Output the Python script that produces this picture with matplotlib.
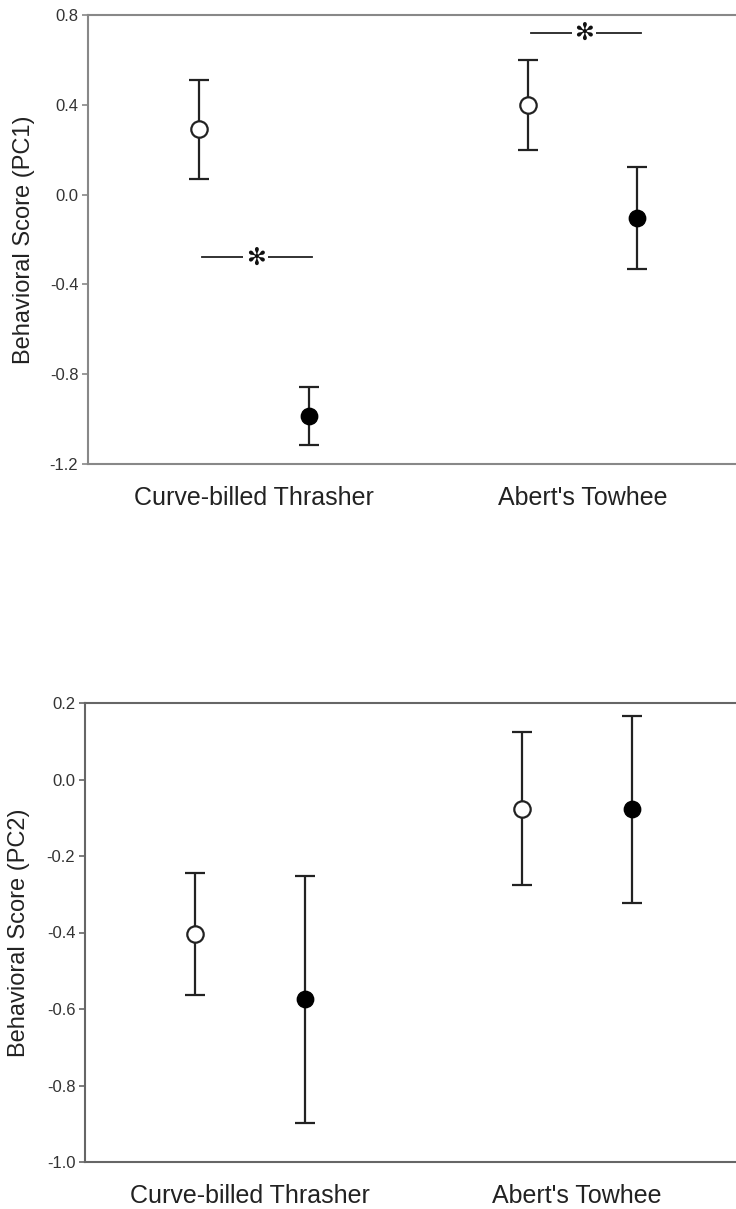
import matplotlib
matplotlib.use("Agg")
import matplotlib.pyplot as plt
import numpy as np

plt.rcParams['font.family'] = ['Liberation Sans', 'DejaVu Sans']

# ---- data ----
species = ["Curve-billed Thrasher", "Abert's Towhee"]
group_pos = [1, 2]
offset = 0.167

pc1_open = [0.29, 0.40]
pc1_open_err = [0.22, 0.20]
pc1_filled = [-0.985, -0.103]
pc1_filled_err = [0.13, 0.227]

pc2_open = [-0.404, -0.077]
pc2_open_err = [0.16, 0.20]
pc2_filled = [-0.574, -0.078]
pc2_filled_err = [0.323, 0.244]

pc1_sig_y = [-0.28, 0.72]

pc1_yticks = [0.8, 0.4, 0.0, -0.4, -0.8, -1.2]
pc2_yticks = [0.2, 0.0, -0.2, -0.4, -0.6, -0.8, -1.0]

W, H = 736, 1209
fig = plt.figure(figsize=(W / 100, H / 100), dpi=100)


def px_axes(left, right, top, bottom):
    return fig.add_axes([left / W, 1 - bottom / H, (right - left) / W, (bottom - top) / H])


def draw_panel(ax, opens, open_err, fills, fill_err, yticks, ylabel, spine_col, lab_x):
    xo = np.array(group_pos) - offset
    xf = np.array(group_pos) + offset
    ebkw = dict(fmt='none', ecolor='#222222', elinewidth=1.6, capsize=7.5, capthick=1.6, zorder=2)
    ax.errorbar(xo, opens, yerr=open_err, **ebkw)
    ax.errorbar(xf, fills, yerr=fill_err, **ebkw)
    ax.plot(xo, opens, 'o', ms=11.8, mfc='white', mec='#222222', mew=1.6, zorder=3, linestyle='none')
    ax.plot(xf, fills, 'o', ms=11.8, mfc='black', mec='black', mew=1.0, zorder=3, linestyle='none')
    ax.set_xlim(0.495, 2.505)
    ax.set_ylim(min(yticks), max(yticks))
    ax.set_yticks(yticks)
    ax.set_yticklabels([f"{t:.1f}" for t in yticks])
    ax.set_xticks(group_pos)
    ax.set_xticklabels(species, fontsize=18)
    ax.tick_params(axis='x', length=0, pad=16, colors='#222222')
    ax.tick_params(axis='y', direction='out', length=4, width=1.2, pad=3, labelsize=12,
                   colors=spine_col, labelcolor='#333333')
    for s in ['left', 'bottom', 'top']:
        ax.spines[s].set_color(spine_col)
        ax.spines[s].set_linewidth(1.5)
    ax.spines['right'].set_visible(False)
    ax.set_ylabel(ylabel, fontsize=17, color='#222222')
    ax.yaxis.set_label_coords(lab_x, 0.5)


ax1 = px_axes(88, 748.5, 15, 464)
draw_panel(ax1, pc1_open, pc1_open_err, pc1_filled, pc1_filled_err, pc1_yticks,
           "Behavioral Score (PC1)", '#888888', -0.080)

# significance markers (top panel)
for g, yv in zip(group_pos, pc1_sig_y):
    ax1.plot([g - offset + 0.01, g + offset + 0.01], [yv, yv], color='#222222', lw=1.3, zorder=2)
    ax1.text(g + 0.005, yv, "\u273B", ha='center', va='center', fontsize=17, color='#111111',
             family=['DejaVu Sans'],
             bbox=dict(boxstyle='square,pad=0.1', fc='white', ec='none'), zorder=4)

ax2 = px_axes(85, 742, 703, 1162)
draw_panel(ax2, pc2_open, pc2_open_err, pc2_filled, pc2_filled_err, pc2_yticks,
           "Behavioral Score (PC2)", '#666666', -0.0837)

fig.savefig("out.png", dpi=100)
